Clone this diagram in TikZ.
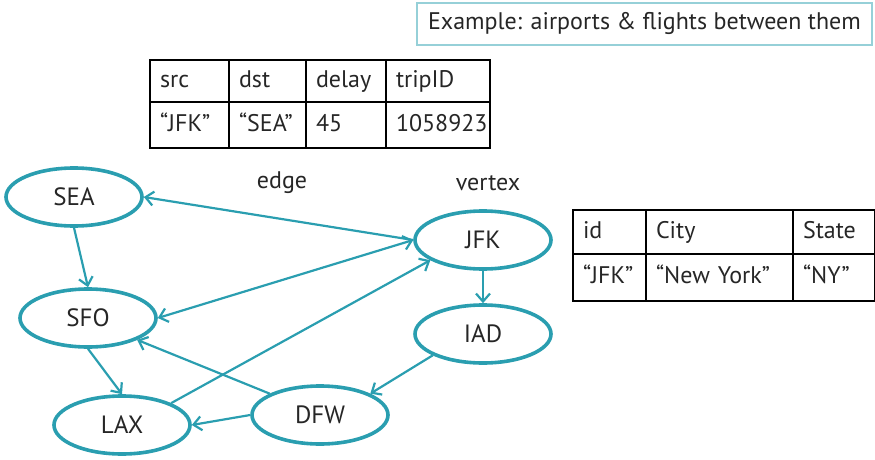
\documentclass[tikz,border=0pt]{standalone}
\usepackage{fontspec}
\setmainfont{PT Sans}
\usepackage{tikz}
\usetikzlibrary{shapes,positioning,arrows.meta}
\usepackage{xcolor}

\definecolor{routeteal}{RGB}{42,158,176}
\definecolor{framenteal}{RGB}{150,208,216}
\definecolor{inkgray}{RGB}{38,38,38}

\begin{document}
\begin{tikzpicture}[x=1pt,y=-1pt, >={Straight Barb[length=8pt,width=14pt]},
        airport/.style={ellipse, draw=routeteal, line width=3.6pt, minimum width=136pt, minimum height=58pt, text=inkgray, font=\fontsize{25}{29}\selectfont},
        flight/.style={draw=routeteal, line width=2.2pt, ->},
        cell/.style={rectangle, draw=black, line width=1.3pt, inner xsep=10pt, inner ysep=0pt, outer sep=0pt, text height=17pt, text depth=5pt, align=left, text=inkgray, font=\fontsize{24}{28}\selectfont},
        word/.style={text=inkgray, font=\fontsize{24}{28}\selectfont}]
            \useasboundingbox (0,0) rectangle (875,460);
            % title
            \node[rectangle, draw=framenteal, line width=1.5pt, minimum width=455pt, minimum height=42pt, word] (title) at (644.5,24) {Example: airports \& flights between them};
            % edge table
            \node[cell, text width=59pt, minimum height=42pt, anchor=north west] (src) at (150,60) {src};
            \node[cell, text width=57pt, minimum height=42pt, right=0pt of src] (dst) {dst};
            \node[cell, text width=60pt, minimum height=42pt, right=0pt of dst] (delay) {delay};
            \node[cell, text width=84pt, minimum height=42pt, right=0pt of delay] (trip) {tripID};
            \node[cell, text width=59pt, minimum height=46pt, below=0pt of src] (srcval) {“JFK”};
            \node[cell, text width=57pt, minimum height=46pt, below=0pt of dst] (dstval) {“SEA”};
            \node[cell, text width=60pt, minimum height=46pt, below=0pt of delay] (delayval) {45};
            \node[cell, text width=84pt, minimum height=46pt, below=0pt of trip] (tripval) {1058923};
            % vertex table
            \node[cell, text width=53pt, minimum height=44pt, anchor=north west] (id) at (573,210) {id};
            \node[cell, text width=127pt, minimum height=44pt, right=0pt of id] (city) {City};
            \node[cell, text width=62pt, minimum height=44pt, right=0pt of city] (state) {State};
            \node[cell, text width=53pt, minimum height=47pt, below=0pt of id] (idval) {“JFK”};
            \node[cell, text width=127pt, minimum height=47pt, below=0pt of city] (cityval) {“New York”};
            \node[cell, text width=62pt, minimum height=47pt, below=0pt of state] (stateval) {“NY”};
            % graph
            \node[airport] (sea) at (74,197) {SEA};
            \node[airport] (sfo) at (88,318) {SFO};
            \node[airport] (lax) at (122,425) {LAX};
            \node[airport] (dfw) at (320,415) {DFW};
            \node[airport] (jfk) at (483,240) {JFK};
            \node[airport] (iad) at (483,334) {IAD};
            \node[word] (edgelabel) at (282,183) {edge};
            \node[word] (vertexlabel) at (488,183) {vertex};
            \draw[flight] (jfk.west) -- (sea.east);
            \draw[flight] (sea.south) -- (sfo.north);
            \draw[flight, <->] (sfo.east) -- (jfk.west);
            \draw[flight] (lax.24) -- (jfk.201);
            \draw[flight] (sfo.south) -- (lax.north);
            \draw[flight] (dfw.157) -- (sfo.336);
            \draw[flight] (dfw.west) -- (lax.east);
            \draw[flight] (jfk.south) -- (iad.north);
            \draw[flight] (iad.203) -- (dfw.23);
        \end{tikzpicture}
\end{document}
